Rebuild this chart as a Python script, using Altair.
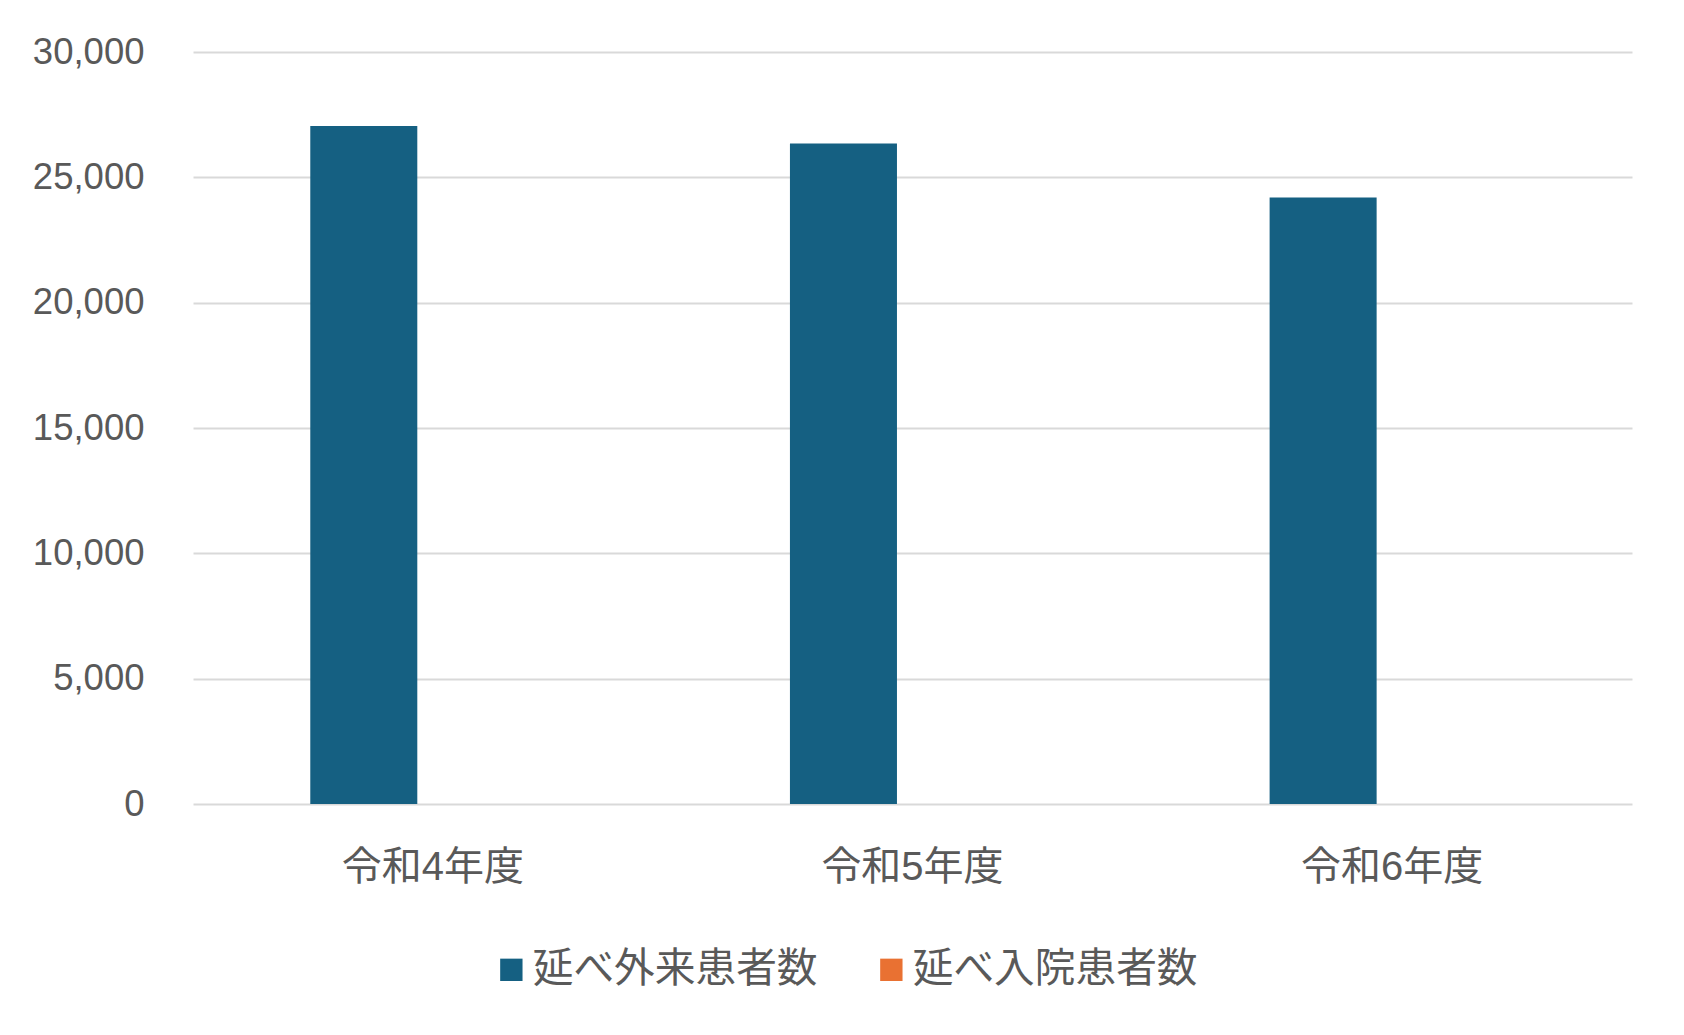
import altair as alt
import pandas as pd

categories = ["令和4年度", "令和5年度", "令和6年度"]
series_names = ["延べ外来患者数", "延べ入院患者数"]
outpatient = [27050, 26350, 24200]
inpatient = [0, 0, 0]
series_colors = ["#156082", "#E97132"]
y_ticks = [0, 5000, 10000, 15000, 20000, 25000, 30000]

rows = []
for c, v in zip(categories, outpatient):
    rows.append({"year": c, "series": series_names[0], "value": v})
for c, v in zip(categories, inpatient):
    rows.append({"year": c, "series": series_names[1], "value": v})
df = pd.DataFrame(rows)

FONT = "Liberation Sans, Noto Sans CJK JP, sans-serif"
TXT = "#595959"

chart = alt.Chart(df).mark_bar().encode(
    x=alt.X("year:N", sort=categories, title=None,
            scale=alt.Scale(paddingInner=0.489, paddingOuter=0.2445),
            axis=alt.Axis(labelAngle=0, labelFontSize=40, labelColor=TXT, labelFont=FONT,
                          labelPadding=43, labelLimit=400, ticks=False, domain=False,
                          grid=False)),
    xOffset=alt.XOffset("series:N", sort=series_names,
                        scale=alt.Scale(paddingInner=0.225, paddingOuter=0)),
    y=alt.Y("value:Q", title=None,
            scale=alt.Scale(domain=[0, 30000], nice=False),
            axis=alt.Axis(values=y_ticks, format=",d", labelFontSize=36.5, labelColor=TXT,
                          labelFont=FONT, labelPadding=49, ticks=False, domain=False,
                          grid=True, gridColor="#d9d9d9", gridWidth=2)),
    color=alt.Color("series:N", sort=series_names,
                    scale=alt.Scale(domain=series_names, range=series_colors),
                    legend=alt.Legend(title=None, orient="none", direction="horizontal",
                                      legendX=298, legendY=897,
                                      symbolType="square", symbolSize=500,
                                      symbolStrokeWidth=0, labelFontSize=40.7,
                                      labelColor=TXT, labelFont=FONT, labelOffset=1,
                                      columnPadding=53, padding=0, labelLimit=400)),
).properties(
    width=1439, height=752,
    autosize=alt.AutoSizeParams(type="none"),
    padding={"left": 185, "top": 44, "right": 40, "bottom": 210},
).configure(background="white").configure_view(stroke=None)

chart.save("out.html", embed_options={"renderer": "svg", "actions": False})
